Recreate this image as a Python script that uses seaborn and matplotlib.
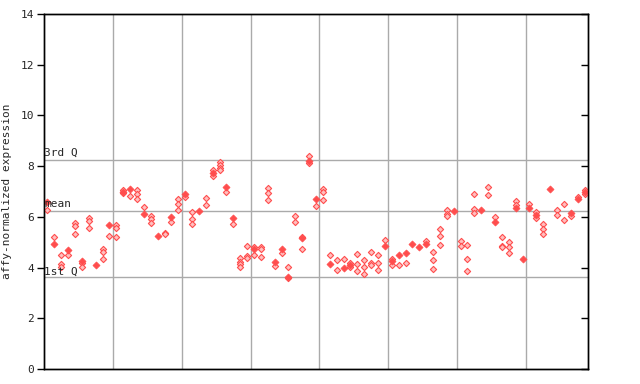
import numpy as np
import pandas as pd
import matplotlib
matplotlib.use("Agg")
import matplotlib.pyplot as plt
import seaborn as sns

nan = np.nan
# filled marker value per sample column (nan where none is visible)
mean_vals = [6.57, 4.94, nan, 4.68, nan, 4.25, nan, 4.10, nan, 5.68,
             nan, 7.00, 7.08, nan, 6.11, nan, 5.26, nan, 6.01, nan,
             6.90, nan, 6.24, nan, 7.71, nan, 7.16, 5.97, nan, nan,
             4.74, nan, nan, 4.23, 4.74, 3.62, nan, 5.15, 8.22, 6.69,
             nan, 4.15, nan, 3.99, 4.12, nan, nan, nan, nan, 4.85,
             4.24, 4.51, 4.59, 4.92, 4.81, 4.94, nan, nan, nan, 6.24,
             nan, nan, nan, 6.27, nan, 5.81, nan, nan, 6.33, 4.34,
             6.33, 6.07, nan, 7.08, nan, nan, 6.17, 6.69, 7.00]
# open (replicate) marker values per sample column
rep_vals = [[6.27], [5.19], [4.48, 4.13, 4.03], [4.48], [5.77, 5.64, 5.31],
            [4.17, 4.03], [5.94, 5.84, 5.57], [], [4.74, 4.63, 4.34], [5.24],
            [5.66, 5.57, 5.22], [7.05, 6.93], [6.83], [7.06, 6.90, 6.70], [6.39],
            [6.05, 5.91, 5.77], [], [5.38, 5.31], [5.78], [6.70, 6.49, 6.27],
            [6.79], [6.18, 5.90, 5.70], [], [6.73, 6.45], [7.85, 7.62],
            [8.18, 8.04, 7.94, 7.84], [7.00], [5.70], [4.36, 4.23, 4.13, 4.03], [4.85, 4.47, 4.36],
            [4.82, 4.50], [4.81, 4.72, 4.40], [7.12, 6.93, 6.66], [4.07], [4.56],
            [4.01, 3.58], [6.03, 5.78], [5.22, 4.73], [8.40, 8.11], [6.44],
            [7.09, 7.00, 6.66], [4.48], [4.28, 3.89], [4.34], [4.20, 4.02],
            [4.52, 4.13, 3.86], [4.30, 4.03, 3.73], [4.60, 4.17, 4.09], [4.48, 4.20, 3.89], [5.09],
            [4.35, 4.09], [4.09], [4.20], [], [],
            [5.06], [4.60, 4.28, 3.93], [5.51, 5.23, 4.88], [6.29, 6.13, 6.05], [],
            [5.06, 4.85], [4.88, 4.34, 3.86], [6.92, 6.32, 6.14], [], [7.16, 6.86],
            [5.98], [5.19, 4.85, 4.80], [5.02, 4.82, 4.56], [6.61, 6.45], [],
            [6.51], [6.19, 5.94], [5.72, 5.51, 5.31], [], [6.29, 6.07],
            [6.51, 5.88], [6.03], [6.79], [7.04, 6.92]]

q1_val = 3.63
mean_line = 6.23
q3_val = 8.24
yticks = [0, 2, 4, 6, 8, 10, 12, 14]
group_bounds = [10, 20, 30, 40, 50, 60, 70]
ylabel = "affy-normalized expression"

n = len(mean_vals)
df_mean = pd.DataFrame({"x": np.arange(n) + 0.5, "v": mean_vals}).dropna()
rx, rv = [], []
for i, vals in enumerate(rep_vals):
    for v in vals:
        rx.append(i + 0.5)
        rv.append(v)
df_rep = pd.DataFrame({"x": rx, "v": rv})

sns.set_style("white")
plt.rcParams["font.family"] = ["DejaVu Sans Mono"]

fig = plt.figure(figsize=(6.4, 3.84), dpi=100)
ax = fig.add_axes([44 / 640, 15 / 384, 544 / 640, 355 / 384])

grid_c = "#aaaaaa"
for g in group_bounds:
    ax.axvline(g, color=grid_c, lw=1, zorder=1)
for yv in (q1_val, mean_line, q3_val):
    ax.axhline(yv, color=grid_c, lw=1, zorder=1)

red = "#ff4d4d"
sns.scatterplot(data=df_rep, x="x", y="v", ax=ax, marker="D", s=10,
                color="#ffc0c0", edgecolor=red, linewidth=0.8, zorder=3)
sns.scatterplot(data=df_mean, x="x", y="v", ax=ax, marker="D", s=13,
                color=red, edgecolor=red, linewidth=0.5, zorder=4)

ax.set_xlim(0, n)
ax.set_ylim(0, 14)
ax.set_yticks(yticks)
ax.set_yticklabels([str(t) for t in yticks], fontsize=8)
ax.set_xticks([])
ax.set_xlabel("")
ax.set_ylabel(ylabel, fontsize=8, labelpad=6)
ax.tick_params(axis="y", which="both", left=True, right=False, direction="out",
               length=5, width=1, color="black", labelsize=8, pad=2)

ax2 = ax.twinx()
ax2.set_ylim(0, 14)
ax2.set_yticks(yticks)
ax2.set_yticklabels([])
ax2.tick_params(axis="y", right=True, left=False, direction="in", length=5,
                width=1, color="black")
for a in (ax, ax2):
    for sp in a.spines.values():
        sp.set_color("black")
        sp.set_linewidth(1)
        sp.set_visible(True)

ax.text(0.05, q3_val + 0.08, "3rd Q", fontsize=8, va="bottom", ha="left", zorder=5)
ax.text(0.05, mean_line + 0.08, "mean", fontsize=8, va="bottom", ha="left", zorder=5)
ax.text(0.05, q1_val + 0.02, "1st Q", fontsize=8, va="bottom", ha="left", zorder=5)

fig.savefig("out.png", dpi=100)
